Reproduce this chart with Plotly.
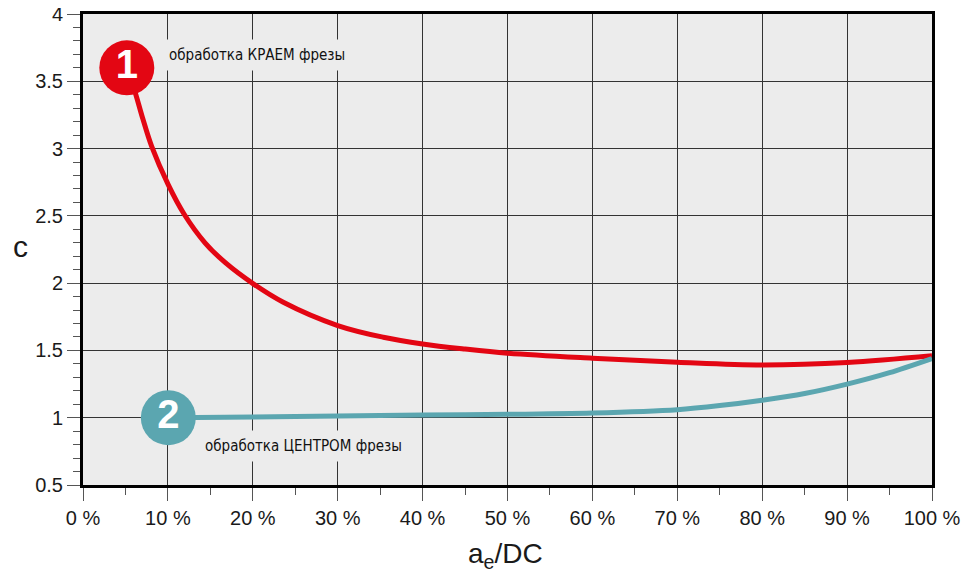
import plotly.graph_objects as go

# Data
edge_x = [5.16, 6.12, 7.03, 8.1, 10.05, 11.9, 14.37, 16.8, 20.06, 23.59, 30.0, 35.37, 40.0, 45, 50, 60, 70, 80, 90, 100]
edge_y = [3.60, 3.423, 3.225, 3.014, 2.730, 2.514, 2.30, 2.15, 1.995, 1.858, 1.685, 1.598, 1.548, 1.51, 1.479, 1.442, 1.412, 1.392, 1.41, 1.46]

center_x = [10.05, 20, 30, 40, 50, 60, 70, 75, 80, 85, 90, 95, 100]
center_y = [1.0, 1.006, 1.012, 1.02, 1.025, 1.035, 1.06, 1.09, 1.13, 1.18, 1.25, 1.335, 1.44]

x_ticks = [0, 10, 20, 30, 40, 50, 60, 70, 80, 90, 100]
y_ticks = [0.5, 1, 1.5, 2, 2.5, 3, 3.5, 4]
y_tick_text = ["0.5", "1", "1.5", "2", "2.5", "3", "3.5", "4"]

label_edge = "обработка КРАЕМ фрезы"
label_center = "обработка ЦЕНТРОМ фрезы"

RED = "#e30613"
TEAL = "#5ba6b0"
BG = "#ececec"
LABEL_FONT = "DejaVu Sans Condensed, Liberation Sans Narrow, Liberation Sans"

# the page body has an 8px margin; size the figure so the plot lands where the reference has it
BODY = 8
W, H = 970 - BODY, 575 - BODY
PL, PR, PT, PB = 83, 932, 14, 485  # plot area edges in window pixels

fig = go.Figure()

fig.add_trace(go.Scatter(x=edge_x, y=edge_y, mode="lines",
                         line=dict(color=RED, width=5, shape="spline", smoothing=1.0),
                         hoverinfo="skip", showlegend=False))
fig.add_trace(go.Scatter(x=center_x, y=center_y, mode="lines",
                         line=dict(color=TEAL, width=5, shape="spline", smoothing=0.8),
                         hoverinfo="skip", showlegend=False))

# numbered circles at the start of each curve
fig.add_trace(go.Scatter(x=[edge_x[0]], y=[edge_y[0]], mode="markers+text",
                         marker=dict(size=55, color=RED, line=dict(width=0)),
                         text=["<b>1</b>"], textposition="middle center",
                         textfont=dict(family="Liberation Sans", size=40, color="white"),
                         hoverinfo="skip", showlegend=False))
fig.add_trace(go.Scatter(x=[center_x[0]], y=[center_y[0]], mode="markers+text",
                         marker=dict(size=55, color=TEAL, line=dict(width=0)),
                         text=["<b>2</b>"], textposition="middle center",
                         textfont=dict(family="Liberation Sans", size=40, color="white"),
                         hoverinfo="skip", showlegend=False))

fig.add_annotation(x=9.3, y=3.695, xref="x", yref="y", text=label_edge, showarrow=False,
                   xanchor="left", yanchor="middle", bgcolor=BG, borderpad=6,
                   font=dict(family=LABEL_FONT, size=15, color="#111"))
fig.add_annotation(x=13.55, y=0.79, xref="x", yref="y", text=label_center, showarrow=False,
                   xanchor="left", yanchor="middle", bgcolor=BG, borderpad=6,
                   font=dict(family=LABEL_FONT, size=15, color="#111"))

# axis titles
pw, ph = PR - PL, PB - PT
fig.add_annotation(x=(505 - PL) / pw, y=-(555 - PB) / ph, xref="paper", yref="paper",
                   text="a<sub>e</sub>/DC", showarrow=False, xanchor="center", yanchor="middle",
                   font=dict(family="Liberation Sans", size=28, color="#1a1a1a"))
fig.add_annotation(x=-(PL - 20) / pw, y=(PB - 246) / ph, xref="paper", yref="paper", text="c",
                   showarrow=False, xanchor="center", yanchor="middle",
                   font=dict(family="Liberation Sans", size=30, color="#1a1a1a"))

fig.update_layout(
    width=W, height=H,
    margin=dict(l=PL - BODY, r=970 - PR, t=PT - BODY, b=575 - PB),
    paper_bgcolor="white", plot_bgcolor=BG,
    font=dict(family="Liberation Sans", color="#1a1a1a"),
    xaxis=dict(range=[0, 100], tickvals=x_ticks, ticktext=[f"{v} %" for v in x_ticks],
               showgrid=True, gridcolor="#333", gridwidth=1,
               showline=True, linecolor="#000", linewidth=3, mirror=True,
               ticks="outside", ticklen=13, tickcolor="#555", tickwidth=1,
               minor=dict(dtick=5, ticks="outside", ticklen=7, tickcolor="#555", showgrid=False),
               tickfont=dict(size=20, color="#1a1a1a"), ticklabeloverflow="allow",
               automargin=False, zeroline=False),
    yaxis=dict(range=[0.5, 4], tickvals=y_ticks, ticktext=y_tick_text,
               showgrid=True, gridcolor="#333", gridwidth=1,
               showline=True, linecolor="#000", linewidth=3, mirror=True,
               ticks="outside", ticklen=13, tickcolor="#555", tickwidth=1,
               minor=dict(dtick=0.1, ticks="outside", ticklen=7, tickcolor="#555", showgrid=False),
               tickfont=dict(size=20, color="#1a1a1a"), ticklabeloverflow="allow",
               automargin=False, zeroline=False),
)

fig.write_html("out.html")
